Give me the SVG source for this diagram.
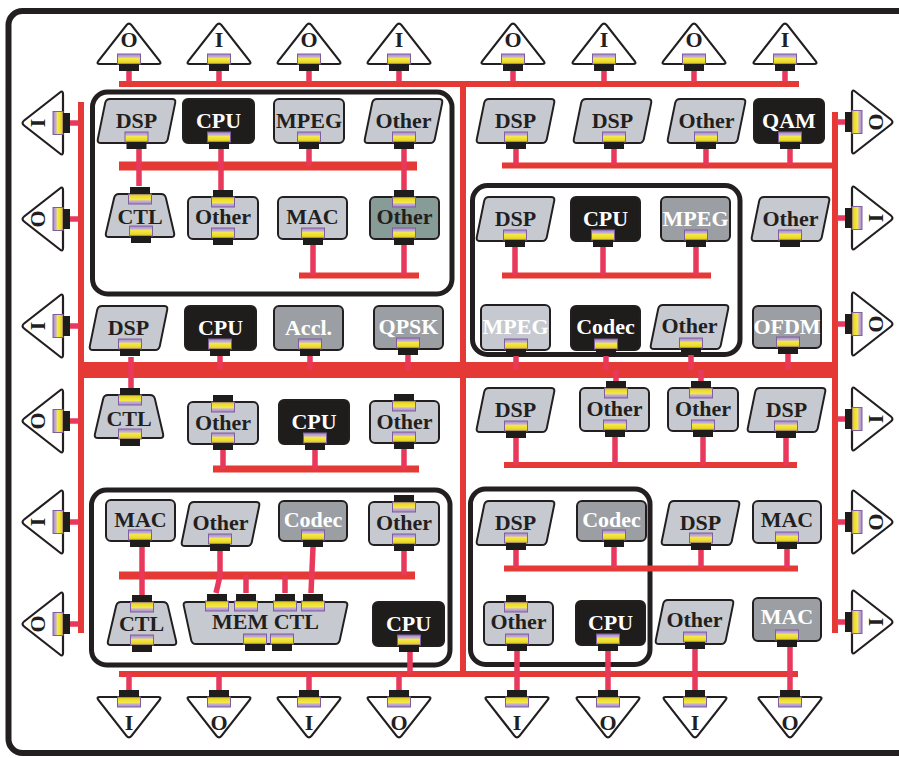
<svg xmlns="http://www.w3.org/2000/svg" xmlns:xlink="http://www.w3.org/1999/xlink" width="899" height="758" viewBox="0 0 899 758">
<style>
.lt{fill:#c6cad0;stroke:#231f20;stroke-width:2;stroke-linejoin:round}
.md{fill:#9b9fa4;stroke:#231f20;stroke-width:2;stroke-linejoin:round}
.bk{fill:#1f1c1c;stroke:#231f20;stroke-width:2;stroke-linejoin:round}
.tl{fill:#879c97;stroke:#231f20;stroke-width:2;stroke-linejoin:round}
.t{font-family:"Liberation Serif",serif;font-weight:bold;font-size:22px;text-anchor:middle;fill:#231f20}
.w{fill:#ffffff}
.bus{stroke:#e53935;fill:none;stroke-width:6}
.stub{stroke:#e8395c;stroke-width:5.5;fill:none}
.box{fill:none;stroke:#231f20;stroke-width:5}
.tri{fill:#ffffff;stroke:#231f20;stroke-width:2.2;stroke-linejoin:round}
</style>
<defs>
<linearGradient id="gP" x1="0" y1="0" x2="0" y2="1">
<stop offset="0" stop-color="#a688c6"/>
<stop offset="0.28" stop-color="#c4aed6"/>
<stop offset="0.45" stop-color="#f2e84a"/>
<stop offset="0.75" stop-color="#eedc2c"/>
<stop offset="1" stop-color="#d8c01c"/>
</linearGradient>
<g id="pD"><rect x="-11.5" y="-10" width="23" height="10" fill="url(#gP)" stroke="#7e5ea0" stroke-width="1"/><rect x="-10" y="0" width="20" height="7" fill="#1f1c1c"/></g>
<path id="para" d="M13,0 L75,0 Q79,0 78.2,3.9 L70.8,40.1 Q70,44 66,44 L4,44 Q0,44 0.8,40.1 L8.2,3.9 Q9,0 13,0 Z"/>
<path id="trap" d="M14,0 L56,0 Q60,0 60.9,3.9 L69.1,39.1 Q70,43 66,43 L4,43 Q0,43 0.9,39.1 L9.1,3.9 Q10,0 14,0 Z"/>
<path id="tri" d="M-29,0 L29,0 Q33,0 30.5,-3.1 L2.5,-38.9 Q0,-42 -2.5,-38.9 L-30.5,-3.1 Q-33,0 -29,0 Z"/>
</defs>
<rect x="0" y="0" width="899" height="758" fill="#ffffff"/>
<g id="frame"><rect x="8.5" y="11" width="905" height="742" rx="14" fill="none" stroke="#231f20" stroke-width="6"/></g>
<g id="groups">
<rect class="box" x="92.5" y="92" width="359.5" height="202" rx="15"/>
<rect class="box" x="472.5" y="185.5" width="267.5" height="169" rx="15"/>
<rect class="box" x="91.5" y="490" width="358.5" height="175" rx="15"/>
<rect class="box" x="470.5" y="489" width="179.5" height="175.5" rx="15"/>
</g>
<g id="connectors">
<path class="bus" d="M119,84 H799 M463,84 V674 M81,102 V633 M835,112 V633 M119,674 H798 M299,275.5 H419 M502,165.5 H835 M502,275.5 H711 M504,465 H797 M504,568.5 H798"/>
<path class="bus" style="stroke-width:16" d="M79,370 H838"/>
<path class="bus" style="stroke-width:9" d="M119,166 H417"/>
<path class="bus" style="stroke-width:7" d="M213,469 H419"/>
<path class="bus" style="stroke-width:8" d="M119,575.5 H415"/>
<path class="stub" d="M129,71 V82 M219,71 V82 M309,71 V82 M399,71 V82 M513,71 V82 M604,71 V82 M694,71 V82 M785,71 V82
M70,123 H79 M70,219 H79 M70,326 H79 M70,421 H79 M70,522 H79 M70,624 H79
M837,122 H845 M837,218 H845 M837,324 H845 M837,419 H845 M837,522 H845 M837,622 H845
M129,674 V691 M219,674 V691 M309,674 V691 M399,674 V691
M139,149 V186 M221,149 V190 M309,149 V166 M404,149 V190 M313,245 V275 M404,245 V275
M131,357 V388 M220,356 V370 M310,356 V370 M408,355 V370
M516,149 V165 M614,149 V165 M706,149 V165 M790,149 V165
M515,247 V275 M603,247 V275 M696,247 V275
M516,356 V370 M606,356 V370 M691,355 V370 M788,354 V370
M616,370 V381 M701,370 V381
M516,438 V465 M615,437 V465 M703,437 V465 M786,438 V465
M223,450 V469 M315,450 V469 M404,449 V469
M142,547 V595 M220,551 V576 L216,593 M246,575 V593 M285,575 V593 M313,547 L311,593 M404,551 V575 M410,652 V674
M516,550 V568 M614,547 V568 M701,550 V568 M787,549 V568
M517,651 V691 M608,651 V691 M695,649 V691 M790,647 V691"/>
</g>
<g id="io-top">
<g id="t1"><use xlink:href="#tri" class="tri" transform="translate(129,64)"/><text class="t" x="129" y="47">O</text><use xlink:href="#pD" transform="translate(129,64)"/></g>
<g id="t2"><use xlink:href="#tri" class="tri" transform="translate(219,64)"/><text class="t" x="219" y="47">I</text><use xlink:href="#pD" transform="translate(219,64)"/></g>
<g id="t3"><use xlink:href="#tri" class="tri" transform="translate(309,64)"/><text class="t" x="309" y="47">O</text><use xlink:href="#pD" transform="translate(309,64)"/></g>
<g id="t4"><use xlink:href="#tri" class="tri" transform="translate(399,64)"/><text class="t" x="399" y="47">I</text><use xlink:href="#pD" transform="translate(399,64)"/></g>
<g id="t5"><use xlink:href="#tri" class="tri" transform="translate(513,64)"/><text class="t" x="513" y="47">O</text><use xlink:href="#pD" transform="translate(513,64)"/></g>
<g id="t6"><use xlink:href="#tri" class="tri" transform="translate(604,64)"/><text class="t" x="604" y="47">I</text><use xlink:href="#pD" transform="translate(604,64)"/></g>
<g id="t7"><use xlink:href="#tri" class="tri" transform="translate(694,64)"/><text class="t" x="694" y="47">O</text><use xlink:href="#pD" transform="translate(694,64)"/></g>
<g id="t8"><use xlink:href="#tri" class="tri" transform="translate(785,64)"/><text class="t" x="785" y="47">I</text><use xlink:href="#pD" transform="translate(785,64)"/></g>
</g>
<g id="io-bottom">
<g id="b1"><use xlink:href="#tri" class="tri" transform="translate(129,697) rotate(180)"/><text class="t" x="129" y="730">I</text><use xlink:href="#pD" transform="translate(129,697) rotate(180)"/></g>
<g id="b2"><use xlink:href="#tri" class="tri" transform="translate(219,697) rotate(180)"/><text class="t" x="219" y="730">O</text><use xlink:href="#pD" transform="translate(219,697) rotate(180)"/></g>
<g id="b3"><use xlink:href="#tri" class="tri" transform="translate(309,697) rotate(180)"/><text class="t" x="309" y="730">I</text><use xlink:href="#pD" transform="translate(309,697) rotate(180)"/></g>
<g id="b4"><use xlink:href="#tri" class="tri" transform="translate(399,697) rotate(180)"/><text class="t" x="399" y="730">O</text><use xlink:href="#pD" transform="translate(399,697) rotate(180)"/></g>
<g id="b5"><use xlink:href="#tri" class="tri" transform="translate(517,697) rotate(180)"/><text class="t" x="517" y="730">I</text><use xlink:href="#pD" transform="translate(517,697) rotate(180)"/></g>
<g id="b6"><use xlink:href="#tri" class="tri" transform="translate(608,697) rotate(180)"/><text class="t" x="608" y="730">O</text><use xlink:href="#pD" transform="translate(608,697) rotate(180)"/></g>
<g id="b7"><use xlink:href="#tri" class="tri" transform="translate(695,697) rotate(180)"/><text class="t" x="695" y="730">I</text><use xlink:href="#pD" transform="translate(695,697) rotate(180)"/></g>
<g id="b8"><use xlink:href="#tri" class="tri" transform="translate(790,697) rotate(180)"/><text class="t" x="790" y="730">O</text><use xlink:href="#pD" transform="translate(790,697) rotate(180)"/></g>
</g>
<g id="io-left">
<g id="l1"><use xlink:href="#tri" class="tri" transform="translate(63,123) rotate(-90)"/><text class="t" transform="translate(45,123) rotate(-90)">I</text><use xlink:href="#pD" transform="translate(63,123) rotate(-90)"/></g>
<g id="l2"><use xlink:href="#tri" class="tri" transform="translate(63,219) rotate(-90)"/><text class="t" transform="translate(45,219) rotate(-90)">O</text><use xlink:href="#pD" transform="translate(63,219) rotate(-90)"/></g>
<g id="l3"><use xlink:href="#tri" class="tri" transform="translate(63,326) rotate(-90)"/><text class="t" transform="translate(45,326) rotate(-90)">I</text><use xlink:href="#pD" transform="translate(63,326) rotate(-90)"/></g>
<g id="l4"><use xlink:href="#tri" class="tri" transform="translate(63,421) rotate(-90)"/><text class="t" transform="translate(45,421) rotate(-90)">O</text><use xlink:href="#pD" transform="translate(63,421) rotate(-90)"/></g>
<g id="l5"><use xlink:href="#tri" class="tri" transform="translate(63,522) rotate(-90)"/><text class="t" transform="translate(45,522) rotate(-90)">I</text><use xlink:href="#pD" transform="translate(63,522) rotate(-90)"/></g>
<g id="l6"><use xlink:href="#tri" class="tri" transform="translate(63,624) rotate(-90)"/><text class="t" transform="translate(45,624) rotate(-90)">O</text><use xlink:href="#pD" transform="translate(63,624) rotate(-90)"/></g>
</g>
<g id="io-right">
<g id="r1"><use xlink:href="#tri" class="tri" transform="translate(852,122) rotate(90)"/><text class="t" transform="translate(869,122) rotate(90)">O</text><use xlink:href="#pD" transform="translate(852,122) rotate(90)"/></g>
<g id="r2"><use xlink:href="#tri" class="tri" transform="translate(852,218) rotate(90)"/><text class="t" transform="translate(869,218) rotate(90)">I</text><use xlink:href="#pD" transform="translate(852,218) rotate(90)"/></g>
<g id="r3"><use xlink:href="#tri" class="tri" transform="translate(852,324) rotate(90)"/><text class="t" transform="translate(869,324) rotate(90)">O</text><use xlink:href="#pD" transform="translate(852,324) rotate(90)"/></g>
<g id="r4"><use xlink:href="#tri" class="tri" transform="translate(852,419) rotate(90)"/><text class="t" transform="translate(869,419) rotate(90)">I</text><use xlink:href="#pD" transform="translate(852,419) rotate(90)"/></g>
<g id="r5"><use xlink:href="#tri" class="tri" transform="translate(852,522) rotate(90)"/><text class="t" transform="translate(869,522) rotate(90)">O</text><use xlink:href="#pD" transform="translate(852,522) rotate(90)"/></g>
<g id="r6"><use xlink:href="#tri" class="tri" transform="translate(852,622) rotate(90)"/><text class="t" transform="translate(869,622) rotate(90)">I</text><use xlink:href="#pD" transform="translate(852,622) rotate(90)"/></g>
</g>
<g id="n1"><use xlink:href="#para" class="lt" x="97" y="99"/><text class="t" x="136.5" y="128">DSP</text><use xlink:href="#pD" transform="translate(136.5,142)"/></g>
<g id="n2"><rect class="bk" x="183" y="99" width="71" height="44" rx="5"/><text class="t w" x="218.5" y="128">CPU</text><use xlink:href="#pD" transform="translate(219,142)"/></g>
<g id="n3"><rect class="lt" x="274" y="99" width="70" height="44" rx="5"/><text class="t" x="309" y="128">MPEG</text><use xlink:href="#pD" transform="translate(309,142)"/></g>
<g id="n4"><use xlink:href="#para" class="lt" x="364" y="99"/><text class="t" x="403.5" y="128">Other</text><use xlink:href="#pD" transform="translate(404,142)"/></g>
<g id="n5"><use xlink:href="#trap" class="lt" x="105" y="194"/><text class="t" x="140" y="224">CTL</text><use xlink:href="#pD" transform="translate(140,194) rotate(180)"/><use xlink:href="#pD" transform="translate(141,236)"/></g>
<g id="n6"><rect class="lt" x="188" y="197" width="70" height="42" rx="5"/><text class="t" x="223" y="224">Other</text><use xlink:href="#pD" transform="translate(223,197) rotate(180)"/><use xlink:href="#pD" transform="translate(223,238)"/></g>
<g id="n7"><rect class="lt" x="278" y="197" width="69" height="42" rx="5"/><text class="t" x="312.5" y="224">MAC</text><use xlink:href="#pD" transform="translate(313,238)"/></g>
<g id="n8"><rect class="tl" x="370" y="197" width="69" height="42" rx="5"/><text class="t" x="404.5" y="224">Other</text><use xlink:href="#pD" transform="translate(404,197) rotate(180)"/><use xlink:href="#pD" transform="translate(404,238)"/></g>
<g id="n9"><use xlink:href="#para" class="lt" x="89" y="306"/><text class="t" x="128.5" y="335">DSP</text><use xlink:href="#pD" transform="translate(130,349)"/></g>
<g id="n10"><rect class="bk" x="185" y="306" width="71" height="44" rx="5"/><text class="t w" x="220.5" y="335">CPU</text><use xlink:href="#pD" transform="translate(220,349)"/></g>
<g id="n11"><rect class="md" x="274" y="306" width="69" height="44" rx="5"/><text class="t w" x="308.5" y="335">Accl.</text><use xlink:href="#pD" transform="translate(310,349)"/></g>
<g id="n12"><rect class="md" x="374" y="306" width="69" height="43" rx="5"/><text class="t w" x="408.5" y="334">QPSK</text><use xlink:href="#pD" transform="translate(408,348)"/></g>
<g id="n13"><use xlink:href="#trap" class="lt" x="94" y="395"/><text class="t" x="129" y="426">CTL</text><use xlink:href="#pD" transform="translate(130,395) rotate(180)"/><use xlink:href="#pD" transform="translate(130,439)"/></g>
<g id="n14"><rect class="lt" x="188" y="402" width="70" height="42" rx="5"/><text class="t" x="223" y="430">Other</text><use xlink:href="#pD" transform="translate(223,402) rotate(180)"/><use xlink:href="#pD" transform="translate(223,443)"/></g>
<g id="n15"><rect class="bk" x="279" y="400" width="70" height="44" rx="5"/><text class="t w" x="314" y="429">CPU</text><use xlink:href="#pD" transform="translate(315,443)"/></g>
<g id="n16"><rect class="lt" x="370" y="401" width="69" height="42" rx="5"/><text class="t" x="404.5" y="429">Other</text><use xlink:href="#pD" transform="translate(404,401) rotate(180)"/><use xlink:href="#pD" transform="translate(404,442)"/></g>
<g id="n17"><use xlink:href="#para" class="lt" x="476" y="99"/><text class="t" x="515.5" y="128">DSP</text><use xlink:href="#pD" transform="translate(516,142)"/></g>
<g id="n18"><use xlink:href="#para" class="lt" x="573" y="99"/><text class="t" x="612.5" y="128">DSP</text><use xlink:href="#pD" transform="translate(614,142)"/></g>
<g id="n19"><use xlink:href="#para" class="lt" x="667" y="99"/><text class="t" x="706.5" y="128">Other</text><use xlink:href="#pD" transform="translate(706,142)"/></g>
<g id="n20"><rect class="bk" x="754" y="99" width="70" height="44" rx="5"/><text class="t w" x="789" y="128">QAM</text><use xlink:href="#pD" transform="translate(790,142)"/></g>
<g id="n21"><use xlink:href="#para" class="lt" x="476" y="197"/><text class="t" x="515.5" y="226">DSP</text><use xlink:href="#pD" transform="translate(515,240)"/></g>
<g id="n22"><rect class="bk" x="571" y="197" width="69" height="44" rx="5"/><text class="t w" x="605.5" y="226">CPU</text><use xlink:href="#pD" transform="translate(603,240)"/></g>
<g id="n23"><rect class="md" x="661" y="197" width="69" height="44" rx="5"/><text class="t w" x="695.5" y="226">MPEG</text><use xlink:href="#pD" transform="translate(696,240)"/></g>
<g id="n24"><rect class="lt" x="481" y="305" width="69" height="45" rx="5"/><text class="t w" x="515.5" y="334">MPEG</text><use xlink:href="#pD" transform="translate(516,349)"/></g>
<g id="n25"><rect class="bk" x="571" y="306" width="69" height="44" rx="5"/><text class="t w" x="605.5" y="334">Codec</text><use xlink:href="#pD" transform="translate(606,349)"/></g>
<g id="n26"><use xlink:href="#para" class="lt" x="650" y="305"/><text class="t" x="689.5" y="333">Other</text><use xlink:href="#pD" transform="translate(691,348)"/></g>
<g id="n27"><use xlink:href="#para" class="lt" x="751" y="197"/><text class="t" x="790.5" y="226">Other</text><use xlink:href="#pD" transform="translate(790,240)"/></g>
<g id="n28"><rect class="md" x="753" y="306" width="68" height="42" rx="5"/><text class="t w" x="787" y="334">OFDM</text><use xlink:href="#pD" transform="translate(788,347)"/></g>
<g id="n29"><use xlink:href="#para" class="lt" x="476" y="388"/><text class="t" x="515.5" y="417">DSP</text><use xlink:href="#pD" transform="translate(516,431)"/></g>
<g id="n30"><rect class="lt" x="580" y="388" width="69" height="43" rx="5"/><text class="t" x="614.5" y="416">Other</text><use xlink:href="#pD" transform="translate(616,388) rotate(180)"/><use xlink:href="#pD" transform="translate(615,430)"/></g>
<g id="n31"><rect class="lt" x="668" y="388" width="70" height="43" rx="5"/><text class="t" x="703" y="416">Other</text><use xlink:href="#pD" transform="translate(701,388) rotate(180)"/><use xlink:href="#pD" transform="translate(703,430)"/></g>
<g id="n32"><use xlink:href="#para" class="lt" x="747" y="388"/><text class="t" x="786.5" y="417">DSP</text><use xlink:href="#pD" transform="translate(786,431)"/></g>
<g id="n33"><rect class="lt" x="106" y="500" width="69" height="41" rx="5"/><text class="t" x="140.5" y="527">MAC</text><use xlink:href="#pD" transform="translate(140,540)"/></g>
<g id="n34"><use xlink:href="#para" class="lt" x="181" y="502"/><text class="t" x="220.5" y="530">Other</text><use xlink:href="#pD" transform="translate(220,544)"/></g>
<g id="n35"><rect class="md" x="279" y="501" width="68" height="40" rx="5"/><text class="t w" x="313" y="527">Codec</text><use xlink:href="#pD" transform="translate(313,540)"/></g>
<g id="n36"><rect class="lt" x="369" y="502" width="70" height="43" rx="5"/><text class="t" x="404" y="530">Other</text><use xlink:href="#pD" transform="translate(404,502) rotate(180)"/><use xlink:href="#pD" transform="translate(404,544)"/></g>
<g id="n37"><use xlink:href="#trap" class="lt" x="107" y="602"/><text class="t" x="141.5" y="631">CTL</text><use xlink:href="#pD" transform="translate(142,602) rotate(180)"/><use xlink:href="#pD" transform="translate(142,645)"/></g>
<g id="n38"><path class="lt" transform="translate(183,602)" d="M4,0 L161,0 Q165,0 164.2,3.9 L156.8,38.1 Q156,42 152,42 L13,42 Q9,42 8.2,38.1 L0.8,3.9 Q0,0 4,0 Z"/><text class="t" x="265.5" y="629">MEM CTL</text><use xlink:href="#pD" transform="translate(217,601) rotate(180)"/><use xlink:href="#pD" transform="translate(246,601) rotate(180)"/><use xlink:href="#pD" transform="translate(285,601) rotate(180)"/><use xlink:href="#pD" transform="translate(313,601) rotate(180)"/><use xlink:href="#pD" transform="translate(255,644)"/><use xlink:href="#pD" transform="translate(282,644)"/></g>
<g id="n39"><rect class="bk" x="373" y="602" width="71" height="44" rx="5"/><text class="t w" x="408.5" y="631">CPU</text><use xlink:href="#pD" transform="translate(409,645)"/></g>
<g id="n40"><use xlink:href="#para" class="lt" x="476" y="501"/><text class="t" x="515.5" y="530">DSP</text><use xlink:href="#pD" transform="translate(516,543)"/></g>
<g id="n41"><rect class="md" x="577" y="501" width="69" height="40" rx="5"/><text class="t w" x="611.5" y="527">Codec</text><use xlink:href="#pD" transform="translate(614,540)"/></g>
<g id="n42"><rect class="lt" x="484" y="602" width="69" height="43" rx="5"/><text class="t" x="518.5" y="629">Other</text><use xlink:href="#pD" transform="translate(516,602) rotate(180)"/><use xlink:href="#pD" transform="translate(517,644)"/></g>
<g id="n43"><rect class="bk" x="576" y="601" width="69" height="44" rx="5"/><text class="t w" x="610.5" y="630">CPU</text><use xlink:href="#pD" transform="translate(608,644)"/></g>
<g id="n44"><use xlink:href="#para" class="lt" x="661" y="501"/><text class="t" x="700.5" y="530">DSP</text><use xlink:href="#pD" transform="translate(701,543)"/></g>
<g id="n45"><rect class="lt" x="753" y="501" width="68" height="42" rx="5"/><text class="t" x="787" y="527">MAC</text><use xlink:href="#pD" transform="translate(787,542)"/></g>
<g id="n46"><use xlink:href="#para" class="lt" x="655" y="600"/><text class="t" x="694.5" y="627">Other</text><use xlink:href="#pD" transform="translate(695,642)"/></g>
<g id="n47"><rect class="md" x="753" y="598" width="68" height="43" rx="5"/><text class="t w" x="787" y="624">MAC</text><use xlink:href="#pD" transform="translate(787,640)"/></g>
</svg>
